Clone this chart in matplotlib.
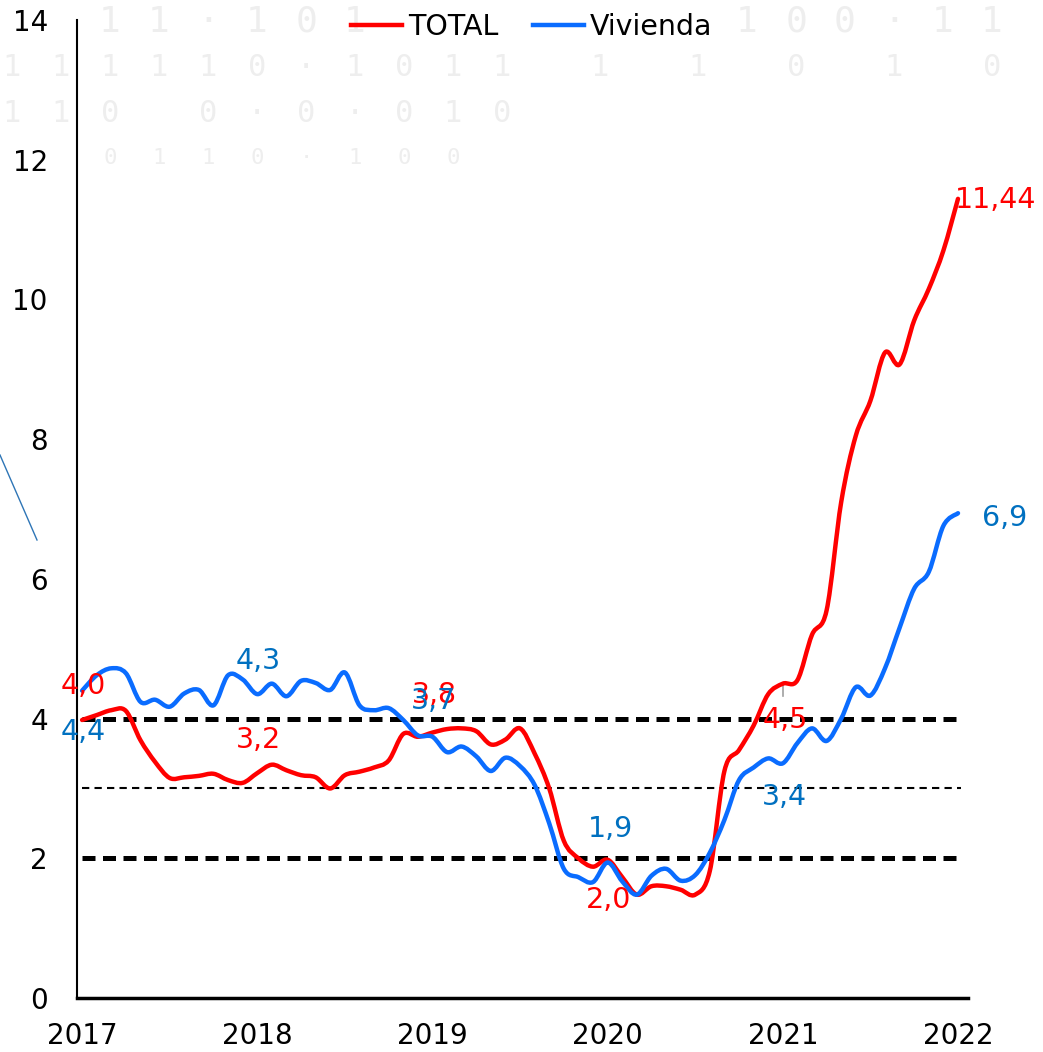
import numpy as np
import matplotlib.pyplot as plt
from matplotlib.lines import Line2D
from matplotlib.path import Path
from matplotlib.patches import PathPatch

# Datos mensuales (ene-2017 .. ene-2022), % interanual
anios = ['2017', '2018', '2019', '2020', '2021', '2022']

total = [3.98, 4.05, 4.12, 4.11, 3.69, 3.38, 3.15, 3.16, 3.18, 3.21,
         3.12, 3.08, 3.22, 3.34, 3.26, 3.19, 3.16, 3.00, 3.19, 3.24,
         3.30, 3.40, 3.78, 3.74, 3.80, 3.85, 3.86, 3.82, 3.63, 3.70,
         3.86, 3.50, 3.00, 2.25, 2.00, 1.88, 1.98, 1.73, 1.48, 1.60,
         1.60, 1.55, 1.48, 1.82, 3.25, 3.55, 3.90, 4.35, 4.50, 4.55,
         5.20, 5.55, 7.10, 8.05, 8.55, 9.24, 9.07, 9.70, 10.15, 10.70,
         11.44]

vivienda = [4.40, 4.62, 4.72, 4.65, 4.24, 4.27, 4.17, 4.36, 4.41, 4.19,
            4.62, 4.56, 4.35, 4.50, 4.32, 4.54, 4.51, 4.41, 4.66, 4.19,
            4.12, 4.15, 3.98, 3.76, 3.74, 3.52, 3.60, 3.46, 3.25, 3.44,
            3.32, 3.05, 2.50, 1.85, 1.73, 1.66, 1.94, 1.67, 1.48, 1.75,
            1.85, 1.68, 1.76, 2.08, 2.55, 3.12, 3.30, 3.43, 3.36, 3.65,
            3.86, 3.68, 4.00, 4.45, 4.33, 4.72, 5.30, 5.86, 6.10, 6.76,
            6.94]

ref_gruesas = [4, 2]
ref_fina = [3]

ROJO = '#FF0000'
AZUL = '#0A6CFF'
AZUL_TXT = '#0070C0'

meses = np.arange(len(total))

plt.rcParams['font.family'] = 'DejaVu Sans'

fig = plt.figure(figsize=(10.43, 10.52), dpi=100)
ax = fig.add_axes([0.0738, 0.0513, 0.8545, 0.9297])
ax.patch.set_visible(False)

# marca de agua de fondo (digitos grises)
marca = [
    (22, '  11·101       100·11', 26),
    (68, '111110·1011 1 1 0 1 0', 22),
    (113, '110 0·0·010', 22),
    (158, '  0110·100', 16),
]
for y_px, fila, tam in marca:
    for k, ch in enumerate(fila):
        if ch == ' ':
            continue
        fig.text((12 + 49 * k) / 1043, 1 - y_px / 1052, ch, color='#EEEEEE',
                 fontsize=tam, family='DejaVu Sans Mono', ha='center',
                 va='center', zorder=-1)

# trazo azul suelto a la izquierda
fig.add_artist(Line2D([0 / 1043, 37 / 1043], [1 - 455 / 1052, 1 - 540 / 1052],
                      transform=fig.transFigure, color='#2E75B6', lw=1))

for v in ref_gruesas:
    ax.plot([0, 60], [v, v], color='black', lw=3.6,
            linestyle=(0, (2.6, 1.5)), zorder=2)
for v in ref_fina:
    ax.plot([0, 60.2], [v, v], color='black', lw=1.5,
            linestyle=(0, (3.5, 2.5)), zorder=2)


def ruta_suave(x, y):
    # linea suavizada tipo Excel: curvas de Bezier por los puntos de datos
    p = np.column_stack([x, y]).astype(float)
    n = len(p)
    verts, codes = [p[0]], [Path.MOVETO]
    for i in range(n - 1):
        p0, p1 = p[max(i - 1, 0)], p[i]
        p2, p3 = p[i + 1], p[min(i + 2, n - 1)]
        verts += [p1 + (p2 - p0) / 6, p2 - (p3 - p1) / 6, p2]
        codes += [Path.CURVE4] * 3
    return Path(verts, codes)


for serie, col in [(total, ROJO), (vivienda, AZUL)]:
    ax.add_patch(PathPatch(ruta_suave(meses, serie), fill=False, edgecolor=col,
                           lw=3.2, capstyle='round', joinstyle='round',
                           zorder=3))

# pequeño conector gris de la etiqueta 4,5
ax.plot([48, 48], [4.48, 4.32], color='#A0A0A0', lw=1.2, zorder=2)


def fmt(v, dec=1):
    return f'{v:.{dec}f}'.replace('.', ',')


# etiquetas de datos: (serie, indice, desplazamiento px, color, decimales, ha)
etiquetas = [
    (total, 0, (1, 34), ROJO, 1, 'center'),
    (vivienda, 0, (1, -41), AZUL_TXT, 1, 'center'),
    (vivienda, 12, (1, 33), AZUL_TXT, 1, 'center'),
    (total, 12, (1, 33), ROJO, 1, 'center'),
    (total, 24, (2, 38), ROJO, 1, 'center'),
    (vivienda, 24, (1, 36), AZUL_TXT, 1, 'center'),
    (vivienda, 36, (3, 34), AZUL_TXT, 1, 'center'),
    (total, 36, (1, -40), ROJO, 1, 'center'),
    (total, 48, (2, -36), ROJO, 1, 'center'),
    (vivienda, 48, (2, -34), AZUL_TXT, 1, 'center'),
    (total, 60, (-3, -1), ROJO, 2, 'left'),
    (vivienda, 60, (47, -5), AZUL_TXT, 1, 'center'),
]
for z, (serie, i, off, col, dec, ha) in enumerate(etiquetas):
    ax.annotate(fmt(serie[i], dec), (meses[i], serie[i]), xytext=off,
                textcoords='offset pixels', color=col, fontsize=20.5,
                ha=ha, va='center', annotation_clip=False, zorder=4 + z * 0.01)

ax.set_xlim(-0.35, 60.7)
ax.set_ylim(0, 14)
ax.set_yticks(np.arange(0, 15, 2))
ax.set_xticks(np.arange(0, 61, 12))
ax.set_xticklabels(anios)
ax.tick_params(axis='y', length=0, pad=21, labelsize=20)
ax.tick_params(axis='x', length=0, pad=17, labelsize=20)
for s in ['top', 'right']:
    ax.spines[s].set_visible(False)
ax.spines['left'].set_linewidth(1.5)
ax.spines['bottom'].set_linewidth(2.5)

manijas = [Line2D([], [], color=ROJO, lw=3.2), Line2D([], [], color=AZUL, lw=3.2)]
ax.legend(manijas, ['TOTAL', 'Vivienda'], loc='center',
          bbox_to_anchor=(0.51, 0.993), ncol=2, frameon=False, fontsize=20.5,
          handlelength=1.8, handletextpad=0.2, columnspacing=1.2)

plt.savefig('out.png', dpi=100)
plt.close()
